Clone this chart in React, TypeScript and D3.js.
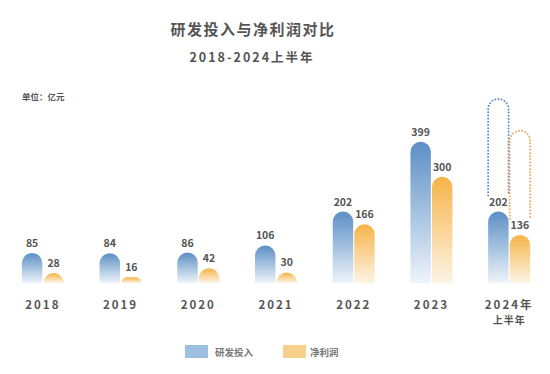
import * as d3 from 'd3';

const years = ['2018', '2019', '2020', '2021', '2022', '2023', '2024'];
const yearLabels = ['2018', '2019', '2020', '2021', '2022', '2023', '2024年'];
const rdSpend = [85, 84, 86, 106, 202, 399, 202];
const netProfit = [28, 16, 42, 30, 166, 300, 136];
// dotted outline over the half-year bars
const projected2024 = { rd: 520, np: 430 };
const seriesNames = ['研发投入', '净利润'];

const W = 550;
const H = 374;
const FONT = '"Noto Sans CJK SC", "Noto Sans", sans-serif';
const TEXT = '#555';

function capsule(x: number, w: number, y0: number, y1: number) {
  // rounded top, flat bottom
  const h = y1 - y0;
  const r = Math.min(w / 2, h);
  const p = d3.path();
  p.moveTo(x, y1);
  p.lineTo(x, y0 + r);
  p.arcTo(x, y0, x + r, y0, r);
  p.lineTo(x + w - r, y0);
  p.arcTo(x + w, y0, x + w, y0 + r, r);
  p.lineTo(x + w, y1);
  p.closePath();
  return p.toString();
}

function openCapsule(x: number, w: number, y0: number, y1: number) {
  const r = w / 2;
  const p = d3.path();
  p.moveTo(x, y1);
  p.lineTo(x, y0 + r);
  p.arc(x + r, y0 + r, r, Math.PI, 0);
  p.lineTo(x + w, y1);
  return p.toString();
}

export default function App() {
  const x = d3.scaleBand<string>().domain(years).range([4, 548]);
  const inner = d3.scaleBand<string>().domain(['rd', 'np']).range([-21, 21]).paddingInner(0.05);
  const y = d3.scaleLinear().domain([0, 520]).range([283, 99]);

  const cx = (yr: string) => (x(yr) ?? 0) + x.bandwidth() / 2;
  const bw = inner.bandwidth();
  const last = years[years.length - 1];

  return (
    <svg width={W} height={H} style={{ position: 'absolute', left: 0, top: 0, background: '#fff' }} fontFamily={FONT}>
      <defs>
        <linearGradient id="gBlue" x1="0" y1="0" x2="0" y2="1">
          <stop offset="0" stopColor="#5b8fc5" />
          <stop offset="1" stopColor="#eef4fa" />
        </linearGradient>
        <linearGradient id="gOrange" x1="0" y1="0" x2="0" y2="1">
          <stop offset="0" stopColor="#f6b447" />
          <stop offset="1" stopColor="#fdf4e6" />
        </linearGradient>
      </defs>
      <rect width={W} height={H} fill="#fff" />

      <text x={253} y={35} textAnchor="middle" fontSize={15} fontWeight={700} fill={TEXT} letterSpacing={1.5}>
        研发投入与净利润对比
      </text>
      <text x={252} y={62} textAnchor="middle" fontSize={12.5} fontWeight={700} fill={TEXT} letterSpacing={2}>
        2018-2024上半年
      </text>
      <text x={22} y={100} fontSize={8.5} fontWeight={700} fill={TEXT}>
        单位：亿元
      </text>

      {/* dotted outlines for 2024 */}
      <path
        d={openCapsule(cx(last) + (inner('rd') ?? 0), bw, y(projected2024.rd), y(rdSpend[6]) - 16)}
        fill="none"
        stroke="#5b8fc5"
        strokeWidth={2}
        strokeDasharray="0 3.2"
        strokeLinecap="round"
      />
      <path
        d={openCapsule(cx(last) + (inner('np') ?? 0), bw, y(projected2024.np), y(netProfit[6]) - 16)}
        fill="none"
        stroke="#f2a65a"
        strokeWidth={2}
        strokeDasharray="0 3.2"
        strokeLinecap="round"
      />

      {years.map((yr, i) => {
        const c = cx(yr);
        const xr = c + (inner('rd') ?? 0);
        const xn = c + (inner('np') ?? 0);
        return (
          <g key={yr}>
            <path d={capsule(xr, bw, y(rdSpend[i]), y(0))} fill="url(#gBlue)" />
            <path d={capsule(xn, bw, y(netProfit[i]), y(0))} fill="url(#gOrange)" />
            <text x={xr + bw / 2} y={y(rdSpend[i]) - 6} textAnchor="middle" fontSize={10.5} fontWeight={700} fill={TEXT}>
              {rdSpend[i]}
            </text>
            <text x={xn + bw / 2} y={y(netProfit[i]) - 6} textAnchor="middle" fontSize={10.5} fontWeight={700} fill={TEXT}>
              {netProfit[i]}
            </text>
            <text x={c} y={309} textAnchor="middle" fontSize={11.5} fontWeight={700} fill={TEXT} letterSpacing={2}>
              {yearLabels[i]}
            </text>
            {i === years.length - 1 && (
              <text x={c} y={324} textAnchor="middle" fontSize={10} fontWeight={700} fill={TEXT} letterSpacing={1}>
                上半年
              </text>
            )}
          </g>
        );
      })}

      {/* legend */}
      <rect x={185} y={345} width={23} height={13} fill="#9dbfe0" />
      <text x={215} y={355.5} fontSize={9.5} fontWeight={700} fill="#777">
        {seriesNames[0]}
      </text>
      <rect x={283} y={345} width={23} height={13} fill="#f9cf8c" />
      <text x={310} y={355.5} fontSize={9.5} fontWeight={700} fill="#777">
        {seriesNames[1]}
      </text>
    </svg>
  );
}
